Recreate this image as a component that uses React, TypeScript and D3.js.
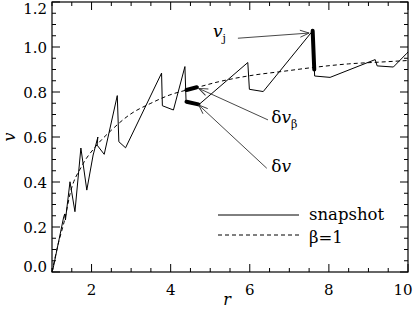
import React, { useRef, useEffect } from 'react';
import * as d3 from 'd3';

// snapshot profile (r, v)
const snapR = [1.02, 1.29, 1.32, 1.34, 1.455, 1.58, 1.73, 1.88, 2.04, 2.06, 2.16, 2.14, 2.32, 2.65, 2.69, 2.86, 3.77, 3.79, 4.07, 4.36, 4.39, 4.70, 5.95, 5.99, 6.34, 7.59, 7.64, 8.03, 9.17, 9.22, 9.63, 9.97, 10.0];
const snapV = [0.009, 0.24, 0.258, 0.231, 0.401, 0.268, 0.551, 0.364, 0.52, 0.533, 0.60, 0.564, 0.523, 0.784, 0.579, 0.552, 0.884, 0.739, 0.72, 0.913, 0.756, 0.742, 0.931, 0.812, 0.802, 1.072, 0.871, 0.865, 0.944, 0.916, 0.911, 0.972, 0.978];

// beta = 1 curve
const betaR = [1.0, 1.15, 1.33, 1.46, 1.75, 2.09, 2.5, 2.97, 3.5, 3.98, 4.41, 4.66, 5.2, 6.13, 6.76, 7.65, 8.5, 9.3, 10.0];
const betaV = [0.0, 0.12, 0.24, 0.35, 0.47, 0.555, 0.63, 0.70, 0.75, 0.787, 0.809, 0.82, 0.845, 0.876, 0.89, 0.91, 0.925, 0.933, 0.94];

// thick highlighted pieces: [r0, v0, r1, v1]
const vjSeg = [7.59, 1.072, 7.63, 0.90];
const dvBetaSeg = [4.40, 0.809, 4.66, 0.821];
const dvSeg = [4.40, 0.757, 4.70, 0.745];

// annotation arrows: [fromR, fromV, toR, toV]
const arrowVj = [5.70, 1.039, 7.50, 1.062];
const arrowDvBeta = [6.46, 0.676, 4.71, 0.816];
const arrowDv = [6.43, 0.461, 4.71, 0.742];

const xMajor = [2, 4, 6, 8, 10];
const yMajor = [0.0, 0.2, 0.4, 0.6, 0.8, 1.0, 1.2];

const W = 417;
const H = 317;
const FONT = "'DejaVu Serif', 'Liberation Serif', serif";

export default function App() {
  const svgRef = useRef<SVGSVGElement>(null);

  useEffect(() => {
    const svg = d3.select(svgRef.current);
    svg.selectAll('*').remove();

    const left = 52, right = 408, top = 2, bottom = 272;
    const x = d3.scaleLinear().domain([1, 10]).range([left, right]);
    const y = d3.scaleLinear().domain([0, 1.2]).range([bottom, top]);

    svg.append('defs').append('marker')
      .attr('id', 'open-arrow')
      .attr('viewBox', '-10 -5 12 10')
      .attr('refX', 0)
      .attr('refY', 0)
      .attr('markerWidth', 12)
      .attr('markerHeight', 10)
      .attr('markerUnits', 'userSpaceOnUse')
      .attr('orient', 'auto')
      .append('path')
      .attr('d', 'M-9,-3.5 L0,0 L-9,3.5')
      .attr('fill', 'none')
      .attr('stroke', '#333')
      .attr('stroke-width', 0.9);

    // frame
    svg.append('rect')
      .attr('x', left).attr('y', top)
      .attr('width', right - left).attr('height', bottom - top)
      .attr('fill', 'none').attr('stroke', '#000').attr('stroke-width', 1.2);

    const ticks = svg.append('g').attr('stroke', '#000').attr('stroke-width', 1);
    const xMinor = d3.range(1, 10.001, 0.5);
    xMinor.forEach(t => {
      const len = xMajor.includes(t) ? 8 : 4;
      ticks.append('line').attr('x1', x(t)).attr('x2', x(t)).attr('y1', bottom).attr('y2', bottom - len);
      ticks.append('line').attr('x1', x(t)).attr('x2', x(t)).attr('y1', top).attr('y2', top + len);
    });
    const yMinor = d3.range(0, 1.2001, 0.05);
    yMinor.forEach(t => {
      const major = yMajor.some(m => Math.abs(m - t) < 1e-6);
      const len = major ? 8 : 4;
      ticks.append('line').attr('y1', y(t)).attr('y2', y(t)).attr('x1', left).attr('x2', left + len);
      ticks.append('line').attr('y1', y(t)).attr('y2', y(t)).attr('x1', right).attr('x2', right - len);
    });

    // tick labels
    svg.append('g').selectAll('text')
      .data(xMajor)
      .join('text')
      .attr('x', (d, i) => x(d) - (i === xMajor.length - 1 ? 5 : 0))
      .attr('y', 295)
      .attr('text-anchor', 'middle')
      .style('font-family', FONT)
      .attr('font-size', 15)
      .text(d => d);

    svg.append('g').selectAll('text')
      .data(yMajor)
      .join('text')
      .attr('x', left - 5)
      .attr('y', (d, i) => y(d) + 5.5 + (i === 0 ? -6 : i === yMajor.length - 1 ? 6 : 0))
      .attr('text-anchor', 'end')
      .style('font-family', FONT)
      .attr('font-size', 15)
      .text(d => d.toFixed(1));

    // axis titles
    svg.append('text')
      .attr('transform', `translate(15,${(top + bottom) / 2}) rotate(-90)`)
      .attr('text-anchor', 'middle')
      .style('font-family', FONT)
      .attr('font-style', 'italic')
      .attr('font-size', 16)
      .text('v');
    svg.append('text')
      .attr('x', 227).attr('y', 305)
      .attr('text-anchor', 'middle')
      .style('font-family', FONT)
      .attr('font-style', 'italic')
      .attr('font-size', 16)
      .text('r');

    // beta = 1 dashed curve
    const betaPts = betaR.map((r, i) => [r, betaV[i]] as [number, number]);
    svg.append('path')
      .attr('d', d3.line<[number, number]>().x(d => x(d[0])).y(d => y(d[1])).curve(d3.curveMonotoneX)(betaPts))
      .attr('fill', 'none').attr('stroke', '#000').attr('stroke-width', 1)
      .attr('stroke-dasharray', '4 3');

    // snapshot line
    const snapPts = snapR.map((r, i) => [r, snapV[i]] as [number, number]);
    svg.append('path')
      .attr('d', d3.line<[number, number]>().x(d => x(d[0])).y(d => y(d[1]))(snapPts))
      .attr('fill', 'none').attr('stroke', '#000').attr('stroke-width', 1);

    // thick segments
    [vjSeg, dvBetaSeg, dvSeg].forEach(s => {
      svg.append('line')
        .attr('x1', x(s[0])).attr('y1', y(s[1]))
        .attr('x2', x(s[2])).attr('y2', y(s[3]))
        .attr('stroke', '#000').attr('stroke-width', 4).attr('stroke-linecap', 'round');
    });

    // arrows
    [arrowVj, arrowDvBeta, arrowDv].forEach(a => {
      svg.append('line')
        .attr('x1', x(a[0])).attr('y1', y(a[1]))
        .attr('x2', x(a[2])).attr('y2', y(a[3]))
        .attr('stroke', '#333').attr('stroke-width', 0.9)
        .attr('marker-end', 'url(#open-arrow)');
    });

    // annotation labels
    const vj = svg.append('text')
      .attr('x', x(5.07)).attr('y', y(1.044))
      .style('font-family', FONT).attr('font-size', 17);
    vj.append('tspan').attr('font-style', 'italic').text('v');
    vj.append('tspan').attr('font-size', 11).attr('dy', 5).text('j');

    const db = svg.append('text')
      .attr('x', x(6.54)).attr('y', y(0.662))
      .style('font-family', FONT).attr('font-size', 17);
    db.append('tspan').text('δ');
    db.append('tspan').attr('font-style', 'italic').text('v');
    db.append('tspan').attr('font-size', 11).attr('dy', 5).text('β');

    const dv = svg.append('text')
      .attr('x', x(6.54)).attr('y', y(0.444))
      .style('font-family', FONT).attr('font-size', 17);
    dv.append('tspan').text('δ');
    dv.append('tspan').attr('font-style', 'italic').text('v');

    // legend
    const lg = svg.append('g');
    lg.append('line').attr('x1', 218).attr('x2', 299).attr('y1', 215).attr('y2', 215)
      .attr('stroke', '#000').attr('stroke-width', 1);
    lg.append('line').attr('x1', 218).attr('x2', 299).attr('y1', 235).attr('y2', 235)
      .attr('stroke', '#000').attr('stroke-width', 1).attr('stroke-dasharray', '4 3');
    lg.append('text').attr('x', 309).attr('y', 220)
      .style('font-family', FONT).attr('font-size', 16.5).text('snapshot');
    lg.append('text').attr('x', 309).attr('y', 243)
      .style('font-family', FONT).attr('font-size', 16.5).text('β=1');
  }, []);

  return (
    <svg
      ref={svgRef}
      width={W}
      height={H}
      style={{ position: 'absolute', left: 0, top: 0, background: '#fff' }}
    />
  );
}
